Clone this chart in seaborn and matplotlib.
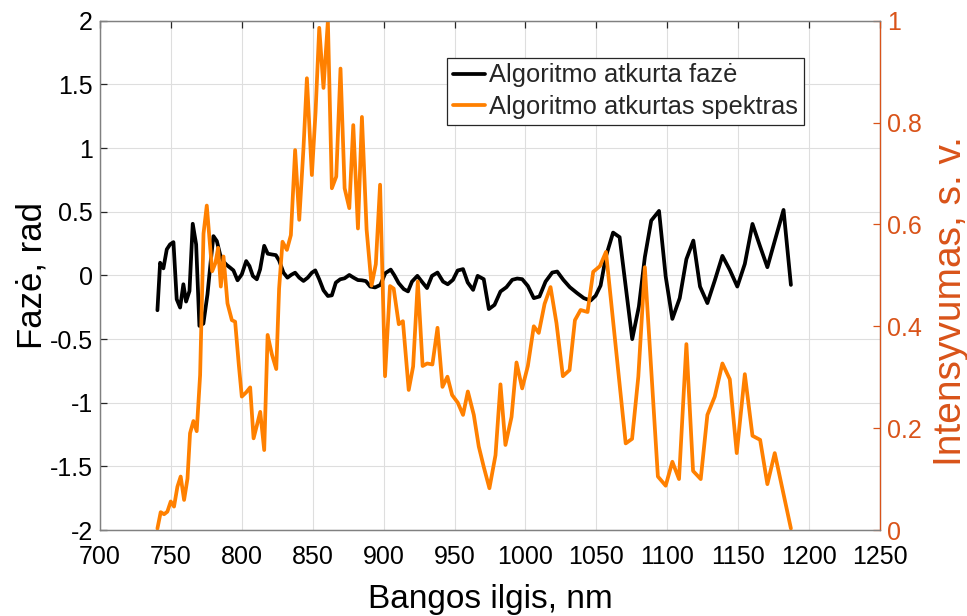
import numpy as np
import pandas as pd
import matplotlib
matplotlib.use("Agg")
import matplotlib.pyplot as plt
import seaborn as sns
from matplotlib.ticker import FuncFormatter, MultipleLocator

# ---- data ----
phase_wl = [740.5, 742.4, 744.7, 747.1, 749.4, 751.8, 754.1, 756.5, 758.8, 760.7,
            763.1, 765.4, 767.8, 770.1, 772.9, 775.8, 778.1, 780.0, 782.4, 784.7,
            787.1, 789.4, 791.8, 794.1, 797.0, 800.0, 803.1, 805.4, 807.8, 810.6,
            812.9, 815.8, 818.3, 821.2, 824.0, 826.3, 829.4, 832.2, 835.0, 837.6,
            840.5, 843.5, 846.5, 849.4, 851.8, 854.6, 857.6, 860.7, 863.5, 866.3,
            869.4, 872.5, 875.8, 878.8, 881.9, 884.7, 887.5, 890.6, 894.0, 897.7,
            901.2, 905.0, 907.6, 910.6, 914.2, 917.2, 920.0, 923.8, 927.0, 930.6,
            934.1, 938.0, 941.9, 945.2, 948.9, 952.2, 956.0, 959.3, 963.1, 966.3,
            970.6, 974.2, 978.2, 982.4, 986.6, 990.7, 994.2, 997.7, 1001.7, 1005.9,
            1009.9, 1014.2, 1018.9, 1022.4, 1026.7, 1031.3, 1036.5, 1041.2, 1045.9, 1049.5,
            1053.0, 1056.8, 1061.8, 1066.4, 1075.3, 1080.0, 1084.2, 1088.7, 1094.2, 1098.9,
            1103.6, 1108.8, 1113.5, 1118.4, 1123.1, 1128.3, 1133.5, 1138.9, 1144.1, 1149.4,
            1154.7, 1160.1, 1165.5, 1170.6, 1176.3, 1182.0, 1187.2]
phase = [-0.274, 0.099, 0.055, 0.204, 0.243, 0.261, -0.188, -0.253, -0.070, -0.206,
         -0.123, 0.405, 0.243, -0.397, -0.379, -0.149, 0.112, 0.308, 0.269, 0.164,
         0.107, 0.081, 0.060, 0.039, -0.039, 0.008, 0.112, 0.073, -0.005, -0.031,
         0.047, 0.232, 0.170, 0.164, 0.159, 0.117, 0.021, -0.018, 0.005, 0.021,
         -0.018, -0.044, -0.018, 0.021, 0.039, -0.031, -0.117, -0.162, -0.157, -0.057,
         -0.031, -0.023, 0.003, -0.018, -0.037, -0.039, -0.045, -0.088, -0.095, -0.075,
         0.017, 0.045, 0.000, -0.061, -0.108, -0.126, -0.049, -0.004, -0.050, -0.100,
         -0.004, 0.022, -0.049, -0.070, -0.035, 0.038, 0.049, -0.056, -0.114, -0.004,
         -0.030, -0.265, -0.232, -0.127, -0.093, -0.035, -0.025, -0.030, -0.083, -0.179,
         -0.166, -0.049, 0.022, 0.030, -0.035, -0.093, -0.140, -0.179, -0.198, -0.160,
         -0.080, 0.150, 0.336, 0.300, -0.501, -0.245, 0.143, 0.430, 0.506, -0.009,
         -0.342, -0.179, 0.127, 0.273, -0.088, -0.218, -0.041, 0.153, 0.043, -0.088,
         0.090, 0.404, 0.226, 0.064, 0.290, 0.514, -0.075]

spec_wl = [740.5, 742.8, 745.2, 747.5, 749.9, 752.2, 754.6, 756.9, 759.3, 761.7,
           763.5, 765.9, 768.2, 770.6, 773.0, 775.3, 779.1, 781.4, 783.3, 785.2,
           787.1, 789.9, 793.0, 795.3, 797.9, 800.0, 803.0, 805.9, 808.3, 810.6,
           813.0, 815.8, 818.2, 821.2, 824.3, 826.3, 828.7, 831.8, 834.6, 837.6,
           840.5, 843.5, 845.9, 849.4, 852.0, 854.6, 857.6, 860.7, 863.5, 866.6,
           869.6, 872.5, 875.8, 878.6, 881.9, 884.7, 888.0, 891.5, 894.5, 897.5,
           901.0, 904.5, 907.1, 910.7, 913.6, 917.7, 920.8, 924.1, 927.5, 930.7,
           934.4, 938.0, 941.5, 945.0, 948.3, 952.3, 956.0, 959.4, 963.6, 967.1,
           970.6, 974.6, 978.9, 982.4, 985.9, 990.2, 993.7, 997.7, 1001.7, 1005.9,
           1009.4, 1013.5, 1017.7, 1021.9, 1026.4, 1031.1, 1034.9, 1038.9, 1043.8, 1047.8,
           1052.5, 1056.8, 1070.7, 1075.2, 1079.6, 1084.2, 1093.4, 1098.9, 1103.6, 1108.3,
           1113.5, 1118.2, 1123.6, 1128.3, 1133.5, 1138.9, 1144.1, 1149.0, 1154.7, 1160.1,
           1165.5, 1170.6, 1175.8, 1187.2]
spectrum = [0.003, 0.035, 0.031, 0.036, 0.056, 0.046, 0.085, 0.105, 0.059, 0.101,
            0.190, 0.214, 0.194, 0.304, 0.582, 0.637, 0.508, 0.524, 0.554, 0.478,
            0.537, 0.445, 0.412, 0.409, 0.324, 0.262, 0.270, 0.280, 0.180, 0.205,
            0.232, 0.157, 0.383, 0.345, 0.316, 0.474, 0.566, 0.550, 0.579, 0.746,
            0.609, 0.750, 0.887, 0.697, 0.820, 0.986, 0.868, 0.999, 0.671, 0.694,
            0.906, 0.671, 0.632, 0.795, 0.592, 0.811, 0.590, 0.480, 0.522, 0.678,
            0.302, 0.479, 0.474, 0.404, 0.410, 0.275, 0.321, 0.488, 0.322, 0.327,
            0.325, 0.397, 0.281, 0.301, 0.265, 0.250, 0.226, 0.272, 0.226, 0.164,
            0.124, 0.082, 0.147, 0.286, 0.167, 0.222, 0.329, 0.278, 0.322, 0.400,
            0.387, 0.444, 0.477, 0.406, 0.302, 0.314, 0.412, 0.432, 0.428, 0.507,
            0.518, 0.546, 0.170, 0.179, 0.301, 0.516, 0.105, 0.087, 0.134, 0.100,
            0.365, 0.116, 0.100, 0.226, 0.262, 0.327, 0.296, 0.151, 0.306, 0.185,
            0.177, 0.090, 0.151, 0.003]

x_ticks = [700, 750, 800, 850, 900, 950, 1000, 1050, 1100, 1150, 1200, 1250]
phase_label = "Algoritmo atkurta fazė"
spec_label = "Algoritmo atkurtas spektras"

# ---- style ----
sns.set_style("white")
plt.rcParams['font.family'] = ['Liberation Sans', 'DejaVu Sans']
plt.rcParams['axes.unicode_minus'] = False

ORANGE = "#FF8000"
AXRED = "#D95319"
GRAY = "#262626"

fig = plt.figure(figsize=(9.67, 6.16), dpi=100)
ax = fig.add_axes([0.1034, 0.1396, 0.8066, 0.8268])
ax2 = ax.twinx()

df_p = pd.DataFrame({"wl": phase_wl, "v": phase})
df_s = pd.DataFrame({"wl": spec_wl, "v": spectrum})
sns.lineplot(data=df_p, x="wl", y="v", ax=ax, color="black", lw=2.7,
             label=phase_label, legend=False)
sns.lineplot(data=df_s, x="wl", y="v", ax=ax2, color=ORANGE, lw=2.7,
             label=spec_label, legend=False)

ax.set_xlim(700, 1250)
ax.set_ylim(-2, 2)
ax2.set_ylim(0, 1)
ax.set_xticks(x_ticks)
ax.yaxis.set_major_locator(MultipleLocator(0.5))
ax2.yaxis.set_major_locator(MultipleLocator(0.2))

fmt = FuncFormatter(lambda v, p: ("%g" % round(v, 3)))
ax.yaxis.set_major_formatter(fmt)
ax2.yaxis.set_major_formatter(fmt)

ax.grid(True, color="#dedede", lw=0.8)
ax.set_axisbelow(True)

for a in (ax, ax2):
    for s in a.spines.values():
        s.set_color("#808080")
        s.set_linewidth(0.9)
ax2.spines['right'].set_color(AXRED)

ax.tick_params(axis='both', direction='in', length=5, width=0.9, colors=GRAY,
               labelsize=18, labelcolor="black", top=True)
ax.tick_params(axis='x', pad=11)
ax.tick_params(axis='y', right=False, pad=5)
ax2.tick_params(axis='y', direction='in', length=5, width=0.9, colors=AXRED,
                labelsize=18, labelcolor=AXRED, pad=5)

ax.set_xlabel("Bangos ilgis, nm", fontsize=24, color="black", va="center")
ax.xaxis.set_label_coords(0.5, -0.136)
ax.set_ylabel("Fazė, rad", fontsize=25, color="black", va="center")
ax.yaxis.set_label_coords(-0.087, 0.5)
ax2.set_ylabel("Intensyvumas, s. v.", fontsize=28, color=AXRED, va="center")
ax2.yaxis.set_label_coords(1.091, 0.45)

h1, l1 = ax.get_legend_handles_labels()
h2, l2 = ax2.get_legend_handles_labels()
leg = ax2.legend(h1 + h2, l1 + l2, loc="upper left", bbox_to_anchor=(0.445, 0.927),
                 fontsize=18.4, frameon=True, fancybox=False, framealpha=1,
                 edgecolor="#262626", handlelength=1.25, handletextpad=0.18,
                 borderpad=0.22, labelspacing=0.3, borderaxespad=0)
leg.get_frame().set_linewidth(0.9)

fig.savefig("out.png", dpi=100)
